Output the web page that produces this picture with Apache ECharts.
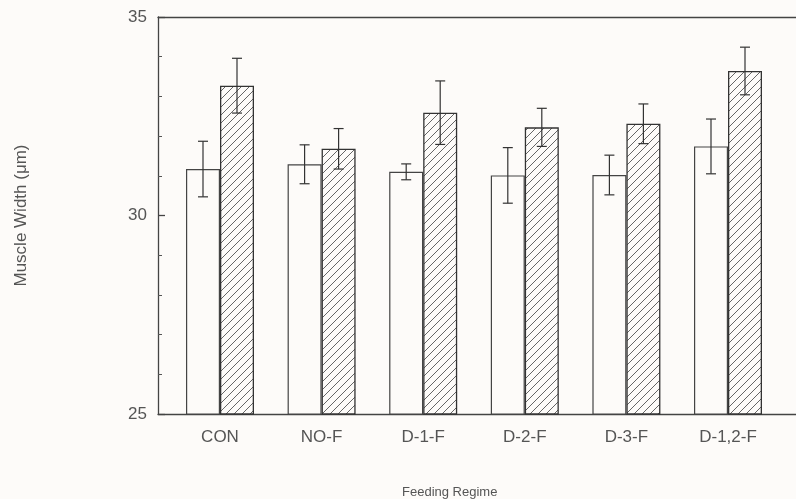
<!DOCTYPE html>
<html>
<head>
<meta charset="utf-8">
<script src="https://cdn.jsdelivr.net/npm/echarts@6/dist/echarts.min.js"></script>
<style>
html,body{margin:0;padding:0;background:#fdfbf9;}
#chart{width:796px;height:499px;}
</style>
</head>
<body>
<div id="chart"></div>
<script>
const categories = ['CON', 'NO-F', 'D-1-F', 'D-2-F', 'D-3-F', 'D-1,2-F'];
const openMeans = [31.17, 31.29, 31.10, 31.01, 31.02, 31.74];
const openErrors = [0.70, 0.49, 0.20, 0.70, 0.50, 0.69];
const hatchedMeans = [33.27, 31.68, 32.59, 32.22, 32.31, 33.64];
const hatchedErrors = [0.69, 0.51, 0.80, 0.48, 0.50, 0.60];
const yMin = 25, yMax = 35, yInterval = 5;

const BAR_W = 34;
const FONT = 'Liberation Sans';
const TXT = '#555';

function hatchPattern() {
  const c = document.createElement('canvas');
  c.width = 8; c.height = 8;
  const ctx = c.getContext('2d');
  ctx.fillStyle = '#fdfbf9';
  ctx.fillRect(0, 0, 8, 8);
  ctx.strokeStyle = '#555';
  ctx.lineWidth = 0.9;
  ctx.beginPath();
  ctx.moveTo(-1, 9); ctx.lineTo(9, -1);
  ctx.moveTo(-1, 1); ctx.lineTo(1, -1);
  ctx.moveTo(7, 9); ctx.lineTo(9, 7);
  ctx.stroke();
  return c;
}

function errorRender(offset) {
  return function (params, api) {
    const i = api.value(0), m = api.value(1), e = api.value(2);
    const top = api.coord([i, m + e]);
    const bot = api.coord([i, m - e]);
    const x = top[0] + offset;
    const cap = 5;
    const style = { stroke: '#333', lineWidth: 1.2 };
    return {
      type: 'group',
      children: [
        { type: 'line', shape: { x1: x, y1: top[1], x2: x, y2: bot[1] }, style: style },
        { type: 'line', shape: { x1: x - cap, y1: top[1], x2: x + cap, y2: top[1] }, style: style },
        { type: 'line', shape: { x1: x - cap, y1: bot[1], x2: x + cap, y2: bot[1] }, style: style }
      ]
    };
  };
}

const chart = echarts.init(document.getElementById('chart'), null, { renderer: 'canvas' });
const lineStyle = { color: '#444', width: 1.3 };

chart.setOption({
  backgroundColor: '#fdfbf9',
  animation: false,
  title: {
    text: 'Feeding Regime',
    left: 397, top: 481,
    textStyle: { fontFamily: FONT, fontSize: 13, fontWeight: 'normal', color: TXT }
  },
  grid: [
    { left: 158, top: 17, width: 660, height: 397 },
    { left: 169.2, top: 17, width: 609.6, height: 397 }
  ],
  xAxis: [
    { type: 'category', gridIndex: 0, data: [''], position: 'bottom',
      axisLine: { show: true, lineStyle: lineStyle }, axisTick: { show: false }, axisLabel: { show: false } },
    { type: 'category', gridIndex: 0, data: [''], position: 'top',
      axisLine: { show: true, lineStyle: lineStyle }, axisTick: { show: false }, axisLabel: { show: false } },
    { type: 'category', gridIndex: 1, data: categories,
      axisLine: { show: false }, axisTick: { show: false },
      axisLabel: { margin: 15, fontFamily: FONT, fontSize: 17, color: TXT } }
  ],
  yAxis: [
    { type: 'value', gridIndex: 0, min: yMin, max: yMax, interval: yInterval,
      name: 'Muscle Width (\u03bcm)', nameLocation: 'middle', nameGap: 128,
      nameTextStyle: { fontFamily: FONT, fontSize: 17, color: TXT },
      axisLine: { show: true, lineStyle: lineStyle },
      axisTick: { show: true, inside: true, length: 7, lineStyle: lineStyle },
      minorTick: { show: true, splitNumber: 5, length: 4, lineStyle: { color: '#555', width: 1 } },
      splitLine: { show: false },
      axisLabel: { margin: 11, fontFamily: FONT, fontSize: 17, color: TXT } },
    { type: 'value', gridIndex: 1, min: yMin, max: yMax, show: false, splitLine: { show: false } }
  ],
  series: [
    { type: 'bar', xAxisIndex: 2, yAxisIndex: 1, data: openMeans, barWidth: BAR_W, barGap: '0%',
      itemStyle: { color: '#fdfbf9', borderColor: '#444', borderWidth: 1.2 } },
    { type: 'bar', xAxisIndex: 2, yAxisIndex: 1, data: hatchedMeans, barWidth: BAR_W, barGap: '0%',
      itemStyle: { color: { image: hatchPattern(), repeat: 'repeat' }, borderColor: '#333', borderWidth: 1.3 } },
    { type: 'custom', xAxisIndex: 2, yAxisIndex: 1, z: 5,
      renderItem: errorRender(-BAR_W / 2),
      data: openMeans.map((m, i) => [i, m, openErrors[i]]) },
    { type: 'custom', xAxisIndex: 2, yAxisIndex: 1, z: 5,
      renderItem: errorRender(BAR_W / 2),
      data: hatchedMeans.map((m, i) => [i, m, hatchedErrors[i]]) }
  ]
});
</script>
</body>
</html>
